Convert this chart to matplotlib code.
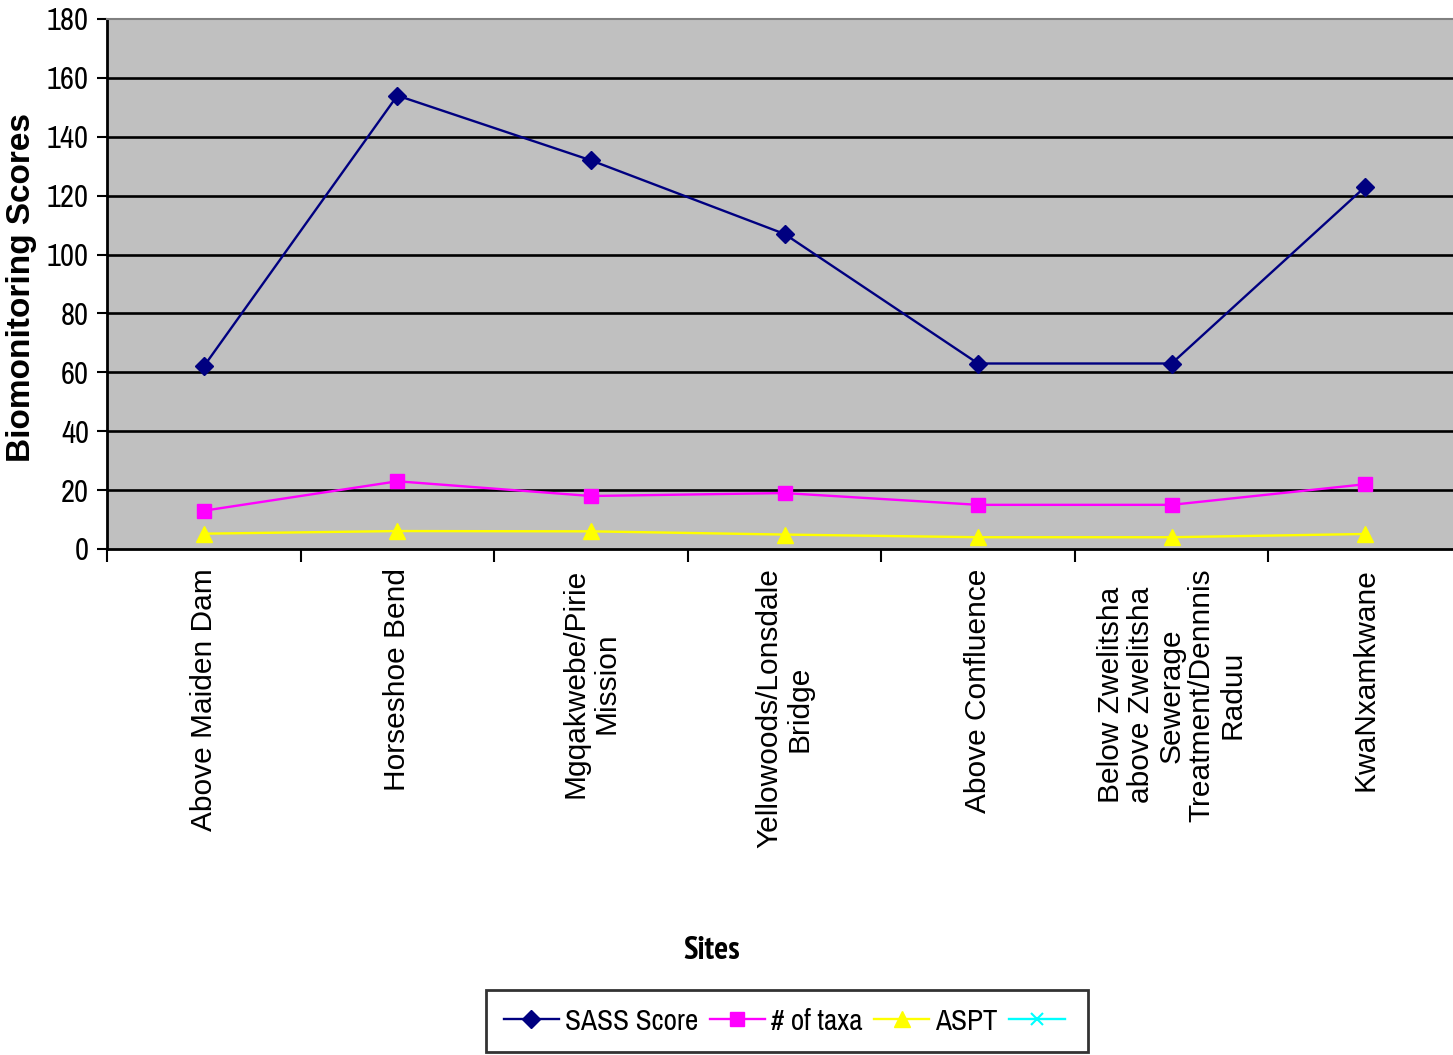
import matplotlib
matplotlib.use("Agg")
import matplotlib.pyplot as plt
from matplotlib import font_manager as fm
import numpy as np

sites = [
    "Above Maiden Dam",
    "Horseshoe Bend",
    "Mgqakwebe/Pirie\nMission",
    "Yellowoods/Lonsdale\nBridge",
    "Above Confluence",
    "Below Zwelitsha\nabove Zwelitsha\nSewerage\nTreatment/Dennnis\nRaduu",
    "KwaNxamkwane",
]
sass_score = [62, 154, 132, 107, 63, 63, 123]
num_taxa = [13, 23, 18, 19, 15, 15, 22]
aspt = [5.2, 6.1, 6.0, 4.9, 4.0, 4.0, 5.1]
blank_series = [np.nan] * 7
yticks = [0, 20, 40, 60, 80, 100, 120, 140, 160, 180]

narrow_cands = ["Liberation Sans Narrow", "Arial Narrow", "Archivo Narrow",
                "PT Sans Narrow", "Roboto Condensed", "Arimo Narrow",
                "Pragati Narrow", "Open Sans Condensed"]
entries = fm.fontManager.ttflist
available = {f.name for f in entries}
bold_available = {f.name for f in entries
                  if (f.weight if isinstance(f.weight, int) else 400) >= 700
                  or str(f.weight) in ("bold", "heavy", "black")}

def pick(cands, pool, default):
    for c in cands:
        if c in pool:
            return c
    return default

narrow_name = pick(narrow_cands, available, "Liberation Sans")
narrow_bold_name = pick(narrow_cands, bold_available, "Liberation Sans")
narrow = [narrow_name, "Liberation Sans", "DejaVu Sans"]
narrow_bold = [narrow_bold_name, "Liberation Sans", "DejaVu Sans"]
sans = ["Liberation Sans", "DejaVu Sans"]

W, H = 1453, 1055
fig = plt.figure(figsize=(W / 100, H / 100), dpi=100)
left, right, top, bottom = 107, 1462, 19, 549
ax = fig.add_axes([left / W, 1 - bottom / H, (right - left) / W, (bottom - top) / H])
ax.set_facecolor("#C0C0C0")

x = np.arange(len(sites))
l1, = ax.plot(x, sass_score, color="#000080", lw=1.7, marker="D", ms=9,
              mfc="#000080", mec="#000080", label="SASS Score", zorder=5)
l2, = ax.plot(x, num_taxa, color="#FF00FF", lw=1.7, marker="s", ms=9.5,
              mfc="#FF00FF", mec="#FF00FF", label="# of taxa", zorder=5)
l3, = ax.plot(x, aspt, color="#FFFF00", lw=1.7, marker="^", ms=12,
              mfc="#FFFF00", mec="#FFFF00", label="ASPT", zorder=5)
l4, = ax.plot(x, blank_series, color="#00FFFF", lw=1.7, marker="x", ms=8,
              mec="#00FFFF", mew=1.5, zorder=5)

ax.set_xlim(-0.5, len(sites) - 0.5)
ax.set_ylim(0, 180)
ax.set_yticks(yticks)
ax.set_yticklabels([str(v) for v in yticks], fontfamily=narrow, fontsize=22)
for v in yticks[1:-1]:
    ax.axhline(v, color="black", lw=1.9, zorder=1)

ax.set_xticks(x)
ax.set_xticklabels(sites, rotation=90, ha="center", va="top",
                   multialignment="center", fontfamily=sans, fontsize=21.5,
                   linespacing=1.1)
ax.set_xticks(np.arange(-0.5, len(sites) + 0.5, 1), minor=True)
ax.tick_params(axis="x", which="major", length=0, pad=14)
ax.tick_params(axis="x", which="minor", length=9, width=1.5, direction="out", color="black")
ax.tick_params(axis="y", which="major", length=7, width=1.5, direction="out", pad=6)

for side in ["left", "bottom"]:
    ax.spines[side].set_color("black")
    ax.spines[side].set_linewidth(2)
ax.spines["top"].set_color("#808080")
ax.spines["top"].set_linewidth(1.5)
ax.spines["right"].set_visible(False)

fig.text(22 / W, 1 - 288 / H, "Biomonitoring Scores", fontfamily=sans, fontsize=24,
         fontweight="bold", rotation=90, ha="center", va="center")
fig.text(712 / W, 1 - 951 / H, "Sites", fontfamily=narrow_bold, fontsize=23.5,
         fontweight="bold", ha="center", va="center")

leg = fig.legend(handles=[l1, l2, l3, l4],
                 labels=["SASS Score", "# of taxa", "ASPT", ""],
                 loc="upper left", bbox_to_anchor=(486 / W, 1 - 990 / H),
                 ncol=4, frameon=True, fancybox=False, edgecolor="black",
                 prop={"family": narrow, "size": 21}, handlelength=1.9,
                 handletextpad=0.2, columnspacing=0.4, borderpad=0.6,
                 borderaxespad=0)
leg.get_frame().set_linewidth(2)

fig.savefig("out.png", dpi=100, facecolor="white")
